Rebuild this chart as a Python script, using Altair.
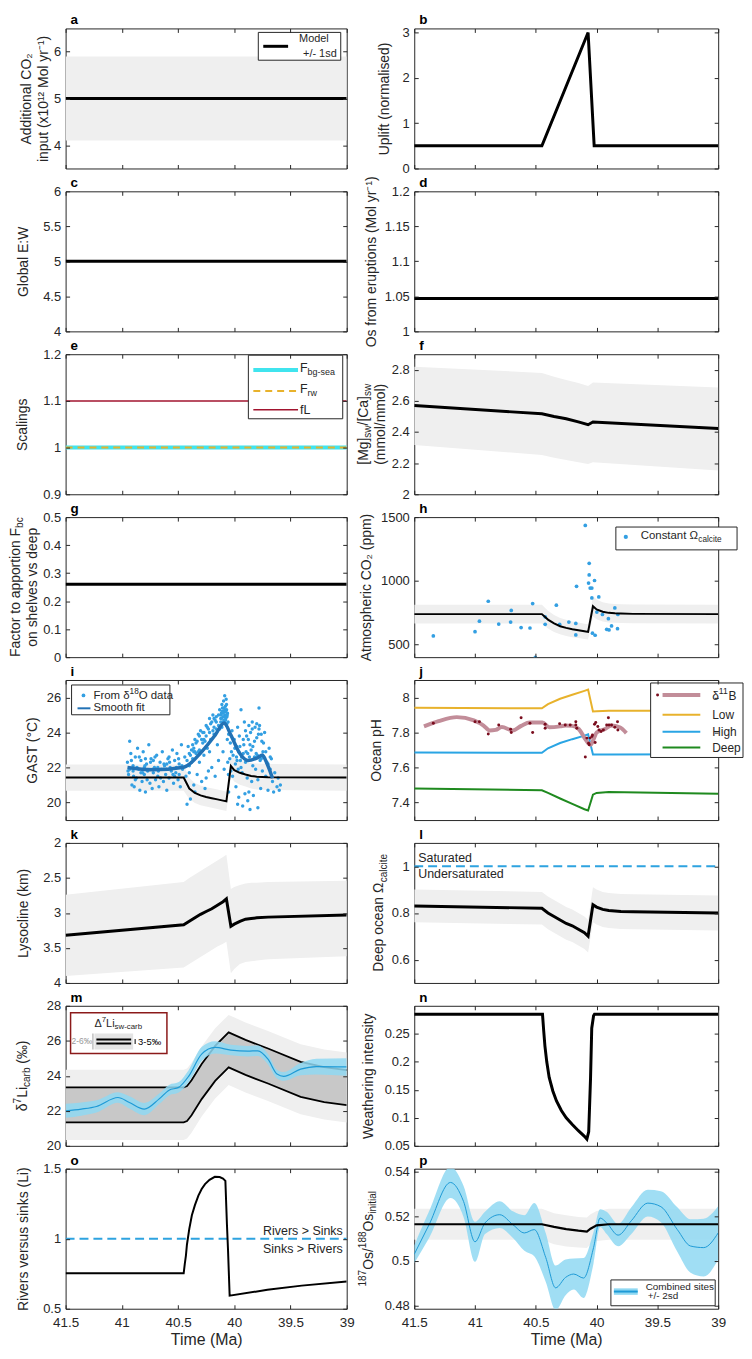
import altair as alt
import pandas as pd

FONT = "Liberation Sans"
TXT = "#262626"
GRAY = "#efefef"
XDOM = [41.5, 39.0]
XTICKS = [41.5, 41, 40.5, 40, 39.5, 39]
LW, RW, H = 283, 306, 141
ONE = pd.DataFrame({"k": [0]})

CYAN = "#40e4ee"; ORANGE = "#e8b22c"; DRED = "#a2142f"
BLUE_PT = "#339fe2"; BLUE_FIT = "#2272b5"
HIGHC = "#2aa5e4"; DEEPC = "#1f8a1f"; BORON = "#c28d99"; BDOT = "#7a0d1e"
LIB = "#1e9ad6"; LIBAND = "#8fd8f2"; DASHB = "#2ea3e0"; DARKG = "#c8c8c8"

# ---------------- data ----------------
a_t = [41.5, 39.0]; a_v = [5.0, 5.0]; a_lo = [4.1, 4.1]; a_hi = [5.9, 5.9]
b_t = [41.5, 40.45, 40.07, 40.02, 39.0]; b_v = [0.5, 0.5, 3.0, 0.5, 0.5]
c_t = [41.5, 39.0]; c_v = [5.0, 5.0]
d_t = [41.5, 39.0]; d_v = [1.047, 1.047]
e_t = [41.5, 39.0]; e_bg = [1.0, 1.0]; e_rw = [1.0, 1.0]; e_fl = [1.1, 1.1]
f_t = [41.5, 40.45, 40.35, 40.25, 40.15, 40.07, 40.03, 39.0]
f_v = [2.57, 2.517, 2.50, 2.485, 2.465, 2.447, 2.464, 2.422]
f_hi = [2.819, 2.78, 2.755, 2.735, 2.715, 2.696, 2.718, 2.686]
f_lo = [2.316, 2.253, 2.235, 2.22, 2.205, 2.194, 2.205, 2.152]
g_t = [41.5, 39.0]; g_v = [0.26, 0.26]

mod_t = [41.5, 40.45, 40.4, 40.35, 40.3, 40.25, 40.2, 40.15, 40.1, 40.07,
         40.03, 40.0, 39.95, 39.9, 39.85, 39.8, 39.7, 39.0]
h_v = [738, 738, 695, 665, 643, 630, 619, 611, 603, 598, 800, 775, 757, 748, 744, 742, 740, 738]
h_hi = [812, 812, 765, 731, 707, 693, 681, 672, 663, 658, 880, 852, 832, 822, 818, 816, 814, 812]
h_lo = [664, 664, 625, 598, 579, 567, 557, 550, 543, 538, 720, 697, 681, 673, 670, 668, 666, 664]
h_pt = [41.343, 41.0, 40.964, 40.891, 40.805, 40.702, 40.707, 40.621, 40.548, 40.526,
        40.504, 40.423, 40.423, 40.331, 40.304, 40.228, 40.171, 40.171, 40.165, 40.093,
        40.061, 40.061, 40.066, 40.053, 40.039, 40.039, 40.017, 40.034, 40.012, 39.998,
        39.982, 39.952, 39.917, 39.903, 39.898, 39.877, 39.85, 39.828, 39.825]
h_pv = [567, 600, 683, 839, 660, 767, 676, 632, 629, 821,
        398, 658, 717, 808, 658, 676, 665, 575, 956, 1435,
        1137, 1046, 982, 943, 943, 865, 1002, 588, 572, 754,
        873, 735, 619, 702, 614, 645, 787, 624, 735]

i_v = [21.43, 21.43, 20.8, 20.55, 20.41, 20.32, 20.25, 20.18, 20.11, 20.07,
       22.09, 21.85, 21.7, 21.6, 21.52, 21.48, 21.45, 21.43]
i_hi = [22.18, 22.18, 21.4, 21.12, 20.97, 20.88, 20.81, 20.74, 20.67, 20.62,
        22.72, 22.55, 22.42, 22.33, 22.26, 22.23, 22.2, 22.18]
i_lo = [20.68, 20.68, 20.2, 19.98, 19.85, 19.77, 19.7, 19.63, 19.56, 19.52,
        21.46, 21.2, 21.02, 20.92, 20.8, 20.74, 20.71, 20.68]
iA_t = [40.95, 40.94, 40.93, 40.92, 40.91, 40.90, 40.89, 40.88, 40.87, 40.86,
        40.85, 40.84, 40.83, 40.82, 40.81, 40.80, 40.79, 40.78, 40.77, 40.76,
        40.75, 40.74, 40.73, 40.72, 40.71, 40.70, 40.69, 40.68, 40.67, 40.66,
        40.65, 40.64, 40.63, 40.62, 40.61, 40.60, 40.59, 40.58, 40.57, 40.56,
        40.55, 40.54, 40.53, 40.52, 40.51, 40.50, 40.49, 40.48, 40.47, 40.46,
        40.93, 40.88, 40.83, 40.79, 40.72, 40.68, 40.63, 40.58, 40.53, 40.49]
iA_v = [22.3, 21.6, 23.5, 22.8, 21.0, 22.1, 20.9, 22.6, 21.4, 23.1,
        21.9, 20.7, 22.4, 21.2, 22.9, 21.6, 20.6, 22.2, 21.8, 23.3,
        21.1, 22.5, 20.8, 21.7, 22.0, 21.3, 22.7, 21.5, 20.9, 22.3,
        21.9, 22.9, 21.2, 22.1, 21.6, 20.7, 22.5, 21.4, 22.0, 21.8,
        23.0, 21.1, 22.4, 21.7, 22.8, 21.3, 22.2, 20.9, 23.3, 21.9,
        21.9, 21.3, 21.7, 22.5, 22.4, 22.0, 21.9, 22.6, 21.5, 21.6]
iB_t = [40.44, 40.43, 40.42, 40.41, 40.40, 40.39, 40.38, 40.37, 40.36, 40.35,
        40.34, 40.33, 40.32, 40.31, 40.30, 40.29, 40.28, 40.27, 40.26, 40.25,
        40.24, 40.23, 40.22, 40.21, 40.20, 40.19, 40.18, 40.17, 40.16, 40.15,
        40.14, 40.13, 40.32, 40.27, 40.22, 40.18, 40.40, 40.36]
iB_v = [22.6, 21.5, 19.9, 23.2, 22.1, 20.2, 23.0, 22.5, 21.0, 23.6,
        22.8, 21.6, 23.9, 22.3, 24.1, 21.2, 23.4, 22.7, 20.8, 24.4,
        23.1, 21.8, 24.8, 23.6, 22.0, 25.0, 23.9, 21.5, 24.6, 23.3,
        22.4, 24.2, 22.9, 23.6, 22.9, 24.3, 21.7, 22.9]
iC_t = [40.12, 40.115, 40.11, 40.105, 40.10, 40.095, 40.09, 40.088, 40.085, 40.082,
        40.08, 40.078, 40.075, 40.072, 40.07, 40.068, 40.065, 40.062, 40.06, 40.058,
        40.055, 40.052, 40.05, 40.10, 40.09]
iC_v = [24.6, 25.1, 24.3, 25.4, 24.9, 25.8, 24.7, 25.2, 26.1, 24.5,
        25.0, 25.5, 24.8, 25.9, 24.4, 25.3, 24.9, 23.6, 25.1, 22.3,
        24.6, 21.6, 23.9, 22.9, 21.9]
iD_t = [40.04, 40.035, 40.03, 40.025, 40.02, 40.015, 40.01, 40.00, 39.99, 39.985,
        39.98, 39.97, 39.965, 39.96, 39.95, 39.945, 39.94, 39.93, 39.925, 39.92,
        39.91, 39.905, 39.90, 39.89, 39.885, 39.88, 39.87, 39.865, 39.86, 39.85,
        39.845, 39.84, 39.835, 39.83, 39.82, 39.81, 39.80, 39.795, 39.79, 39.78,
        39.77, 39.765, 39.76, 39.75, 39.74, 39.73, 39.72, 39.71, 39.70, 39.69,
        39.68, 39.67, 39.66, 39.65, 39.64, 39.62, 39.61, 39.60, 39.59]
iD_v = [22.5, 23.4, 21.8, 22.9, 24.1, 21.5, 22.7, 23.6, 22.2, 20.9,
        22.6, 24.3, 21.9, 20.3, 23.2, 22.4, 25.3, 21.7, 19.8, 22.8,
        24.6, 20.5, 22.3, 23.8, 21.4, 20.1, 24.4, 22.6, 19.6, 23.0,
        21.2, 24.2, 22.1, 20.4, 23.5, 21.9, 24.5, 22.7, 21.3, 25.4,
        22.4, 20.8, 23.9, 21.8, 22.6, 24.0, 21.5, 22.3, 20.7, 23.1,
        21.9, 22.5, 21.2, 20.6, 21.7, 20.9, 21.4, 20.7, 21.0]
iE_t = [40.42, 40.40, 40.38, 40.36, 40.34, 40.31, 40.29, 40.27, 40.25, 40.23,
        40.21, 40.19, 40.17, 40.16, 40.14, 40.13, 40.12, 40.11, 40.1, 40.09,
        39.98, 39.96, 39.94, 39.92, 39.9, 39.88, 39.86, 39.84, 39.82, 39.80,
        39.78, 39.76, 39.74, 39.72, 39.7, 39.68, 40.6, 40.7, 40.8, 40.9]
iE_v = [22.4, 22.8, 22.3, 23.1, 23.4, 23.0, 23.6, 24.0, 23.8, 24.2,
        24.5, 24.1, 24.7, 24.9, 24.4, 25.3, 24.8, 25.6, 25.2, 24.6,
        23.2, 22.9, 22.0, 23.6, 24.1, 22.8, 23.3, 24.6, 22.6, 23.7,
        24.2, 22.5, 23.4, 22.9, 22.2, 22.6, 22.2, 21.9, 22.0, 21.8]
iF_t = [40.118, 40.113, 40.108, 40.103, 40.098, 40.093, 40.087, 40.083, 40.079, 40.076,
        40.073, 40.069, 40.066, 40.063, 40.39, 40.37, 40.35, 40.33, 40.31, 40.28,
        40.26, 40.24, 40.22, 40.2, 40.18, 40.16, 40.14, 39.995, 39.975, 39.955,
        39.935, 39.915, 39.895, 39.875, 39.855, 39.835, 39.815, 39.805, 39.785, 39.775,
        39.755, 39.745, 40.35, 40.25, 40.05, 39.97, 39.87, 39.79]
iF_v = [25.0, 24.8, 25.2, 24.6, 25.1, 25.4, 24.9, 25.3, 24.7, 25.2,
        24.9, 25.6, 24.5, 25.0, 22.7, 23.3, 22.9, 23.5, 23.8, 24.0,
        23.5, 24.3, 24.0, 24.6, 24.8, 24.2, 25.0, 23.1, 22.4, 23.8,
        22.6, 23.3, 22.9, 23.6, 24.0, 23.2, 24.3, 22.8, 23.9, 24.4,
        23.5, 22.9, 20.6, 21.4, 20.6, 19.9, 20.6, 19.7]
iG_t = [40.945, 40.915, 40.895, 40.865, 40.845, 40.815, 40.795, 40.775, 40.745, 40.725,
        40.705, 40.675, 40.655, 40.625, 40.605, 40.575, 40.545, 40.515, 40.495, 40.465]
iG_v = [21.8, 22.4, 21.5, 22.0, 22.6, 21.7, 22.1, 21.3, 22.3, 21.9,
        22.6, 21.8, 21.4, 22.2, 21.9, 22.3, 21.6, 22.0, 22.5, 22.1]
if_t = [40.95, 40.728, 40.45, 40.29, 40.17, 40.09, 40.03, 39.95, 39.88, 39.79, 39.75, 39.71, 39.66]
if_v = [22.0, 21.87, 22.02, 22.9, 23.85, 24.55, 23.85, 22.8, 22.4, 22.57, 22.71, 22.24, 21.39]

jm_t = [41.5, 40.45, 40.4, 40.3, 40.2, 40.1, 40.07, 40.03, 40.0, 39.9, 39.0]
j_low = [7.942, 7.938, 7.962, 7.993, 8.016, 8.038, 8.045, 7.92, 7.922, 7.924, 7.925]
j_high = [7.686, 7.684, 7.71, 7.74, 7.762, 7.782, 7.79, 7.675, 7.675, 7.675, 7.676]
j_deep = [7.48, 7.47, 7.455, 7.423, 7.392, 7.362, 7.355, 7.445, 7.455, 7.46, 7.45]
jb_t = [41.42, 41.3, 41.15, 41.01, 40.93, 40.88, 40.83, 40.78, 40.69, 40.62,
        40.55, 40.445, 40.39, 40.3, 40.255, 40.2, 40.147, 40.1, 40.07, 40.05,
        40.02, 40.0, 39.93, 39.88, 39.81, 39.755]
jb_v = [7.835, 7.865, 7.888, 7.869, 7.84, 7.812, 7.815, 7.831, 7.812, 7.838,
        7.857, 7.857, 7.83, 7.835, 7.84, 7.838, 7.82, 7.77, 7.74, 7.73,
        7.77, 7.8, 7.82, 7.84, 7.83, 7.797]
j_pt = [41.343, 41.0, 40.964, 40.891, 40.805, 40.707, 40.702, 40.621, 40.548, 40.526,
        40.423, 40.423, 40.304, 40.258, 40.217, 40.171, 40.171, 40.163, 40.093, 40.08,
        40.066, 40.061, 40.053, 40.039, 40.034, 40.017, 40.012, 40.007, 39.99, 39.98,
        39.963, 39.944, 39.917, 39.903, 39.898, 39.877, 39.85, 39.828, 39.825]
j_pv = [7.853, 7.862, 7.862, 7.792, 7.843, 7.819, 7.80, 7.885, 7.853, 7.80,
        7.847, 7.824, 7.85, 7.843, 7.843, 7.862, 7.843, 7.824, 7.66, 7.768,
        7.739, 7.73, 7.768, 7.777, 7.786, 7.847, 7.743, 7.857, 7.834, 7.815,
        7.806, 7.815, 7.843, 7.885, 7.843, 7.843, 7.83, 7.862, 7.815]

k_v = [3.32, 3.17, 3.12, 3.07, 3.02, 2.98, 2.94, 2.89, 2.84, 2.80,
       3.19, 3.16, 3.12, 3.09, 3.08, 3.07, 3.06, 3.03]
k_top = [2.74, 2.56, 2.50, 2.45, 2.40, 2.35, 2.30, 2.25, 2.20, 2.17,
         2.66, 2.63, 2.60, 2.58, 2.57, 2.57, 2.56, 2.54]
k_bot = [3.90, 3.78, 3.73, 3.68, 3.63, 3.58, 3.53, 3.48, 3.44, 3.41,
         3.86, 3.80, 3.73, 3.70, 3.69, 3.68, 3.66, 3.62]
l_v = [0.83, 0.82, 0.80, 0.785, 0.77, 0.755, 0.745, 0.73, 0.715, 0.70,
       0.835, 0.825, 0.815, 0.81, 0.808, 0.806, 0.805, 0.80]
l_hi = [0.90, 0.89, 0.87, 0.855, 0.84, 0.825, 0.815, 0.80, 0.785, 0.77,
        0.91, 0.90, 0.89, 0.885, 0.883, 0.881, 0.88, 0.875]
l_lo = [0.76, 0.75, 0.73, 0.715, 0.70, 0.685, 0.675, 0.66, 0.645, 0.63,
        0.76, 0.75, 0.74, 0.735, 0.733, 0.731, 0.73, 0.725]
sat_t = [41.5, 39.0]; sat_v = [1.0, 1.0]

m_t = [41.5, 40.45, 40.42, 40.38, 40.29, 40.17, 40.05, 39.9, 39.7, 39.41, 39.2, 39.0]
m_up = [23.34, 23.34, 23.42, 23.75, 24.67, 25.71, 26.48, 26.05, 25.56, 24.8, 24.5, 24.33]
m_dn = [21.34, 21.34, 21.42, 21.75, 22.67, 23.71, 24.48, 24.05, 23.56, 22.8, 22.5, 22.33]
m_top = [24.34, 24.34, 24.42, 24.75, 25.67, 26.71, 27.48, 27.05, 26.56, 25.8, 25.5, 25.33]
m_bot = [20.34, 20.34, 20.42, 20.75, 21.67, 22.71, 23.48, 23.05, 22.56, 21.8, 21.5, 21.33]
mb_t = [41.5, 41.36, 41.225, 41.035, 40.933, 40.8, 40.67, 40.58, 40.494, 40.406,
        40.29, 40.17, 40.03, 39.88, 39.79, 39.7, 39.62, 39.56, 39.41, 39.27, 39.0]
mb_v = [22.0, 22.1, 22.25, 22.76, 22.48, 22.1, 22.67, 23.18, 23.34, 23.97,
        25.24, 25.62, 25.47, 25.41, 25.43, 24.95, 24.1, 23.97, 24.38, 24.53, 24.51]
mb_hi = [22.4, 22.48, 22.6, 23.06, 22.83, 22.45, 22.97, 23.48, 23.64, 24.32,
         25.64, 25.97, 25.77, 25.71, 25.73, 25.25, 24.35, 24.22, 24.73, 24.98, 25.01]
mb_lo = [21.6, 21.72, 21.9, 22.46, 22.13, 21.75, 22.37, 22.88, 23.04, 23.62,
         24.84, 25.27, 25.17, 25.11, 25.13, 24.65, 23.85, 23.72, 24.03, 24.08, 24.01]

n_t = [41.5, 40.445, 40.435, 40.425, 40.41, 40.39, 40.36, 40.33, 40.29, 40.25,
       40.2, 40.15, 40.1, 40.08, 40.065, 40.05, 40.04, 40.025, 40.017, 39.0]
n_v = [0.285, 0.285, 0.255, 0.228, 0.2, 0.172, 0.148, 0.13, 0.113, 0.1,
       0.088, 0.077, 0.067, 0.062, 0.075, 0.17, 0.26, 0.282, 0.285, 0.285]

o_t = [41.5, 40.45, 40.44, 40.43, 40.421, 40.4, 40.377, 40.35, 40.319, 40.29,
       40.26, 40.22, 40.173, 40.13, 40.1, 40.079, 40.065, 40.056, 40.041, 39.705,
       39.4, 39.0]
o_v = [0.753, 0.753, 0.82, 0.88, 0.957, 1.07, 1.167, 1.24, 1.308, 1.355,
       1.39, 1.42, 1.442, 1.44, 1.43, 1.413, 1.1, 0.93, 0.593, 0.635,
       0.665, 0.695]

pm_t = [41.5, 40.45, 40.35, 40.25, 40.15, 40.08, 40.05, 40.0, 39.9, 39.0]
pm_v = [0.5165, 0.5165, 0.5153, 0.5143, 0.5136, 0.5132, 0.5145, 0.516, 0.5165, 0.5165]
pm_hi = [0.5235, 0.5235, 0.5215, 0.5205, 0.5198, 0.5195, 0.521, 0.5225, 0.5235, 0.5235]
pm_lo = [0.5095, 0.5095, 0.5075, 0.5065, 0.506, 0.5058, 0.5075, 0.509, 0.5095, 0.5095]
pb_t = [41.5, 41.378, 41.202, 41.094, 41.0, 40.918, 40.797, 40.688, 40.594, 40.513,
        40.418, 40.337, 40.255, 40.188, 40.107, 40.025, 39.971, 39.917, 39.823, 39.714,
        39.579, 39.471, 39.336, 39.227, 39.119, 39.0]
pb_v = [0.503, 0.5163, 0.5353, 0.5267, 0.5086, 0.5171, 0.5208, 0.5163, 0.5126, 0.5141,
        0.5015, 0.4879, 0.4926, 0.4941, 0.4923, 0.506, 0.5193, 0.5171, 0.5116, 0.5181,
        0.526, 0.5244, 0.5141, 0.5067, 0.506, 0.5126]
pb_hi = [0.507, 0.5223, 0.5423, 0.5337, 0.5176, 0.5221, 0.5268, 0.5223, 0.5206, 0.5261,
         0.5125, 0.4979, 0.5006, 0.5011, 0.5013, 0.513, 0.5233, 0.5221, 0.5166, 0.5241,
         0.532, 0.5314, 0.5241, 0.5187, 0.519, 0.5246]
pb_lo = [0.499, 0.5103, 0.5283, 0.5197, 0.4996, 0.5121, 0.5148, 0.5103, 0.5046, 0.5021,
         0.4905, 0.4779, 0.4846, 0.4871, 0.4833, 0.499, 0.5153, 0.5121, 0.5066, 0.5121,
         0.52, 0.5174, 0.5041, 0.4947, 0.493, 0.5006]

# ---------------- helpers ----------------
CW = {" ": .278, "!": .278, "(": .333, ")": .333, "+": .584, "-": .333, ".": .278, "/": .278,
      ":": .278, "=": .584, ">": .584, "<": .584, "[": .278, "]": .278, "‰": 1.0, "Δ": .668,
      "δ": .556, "Ω": .768, "°": .4}
for ch in "0123456789":
    CW[ch] = .556
CW.update(dict(A=.667, B=.667, C=.722, D=.722, E=.667, F=.611, G=.778, H=.722, I=.278, J=.5,
               K=.667, L=.556, M=.833, N=.722, O=.778, P=.667, Q=.778, R=.722, S=.667, T=.611,
               U=.722, V=.667, W=.944, X=.667, Y=.667, Z=.611))
CW.update(dict(a=.556, b=.556, c=.5, d=.556, e=.556, f=.278, g=.556, h=.556, i=.222, j=.222,
               k=.5, l=.222, m=.833, n=.556, o=.556, p=.556, q=.556, r=.333, s=.5, t=.278,
               u=.556, v=.5, w=.722, x=.5, y=.5, z=.5))


def tw(s, size):
    return sum(CW.get(ch, .556) for ch in s) * size


def xs():
    return alt.Scale(domain=XDOM, nice=False, zero=False)


def ys(dom, rev=False):
    if rev:
        return alt.Scale(domain=dom, nice=False, zero=False, reverse=True)
    return alt.Scale(domain=dom, nice=False, zero=False)


def enc(yf, yd, rev=False):
    return dict(x=alt.X("t:Q", scale=xs(), axis=None),
                y=alt.Y(yf + ":Q", scale=ys(yd, rev), axis=None))


def band(t, lo, hi, yd, color=GRAY, rev=False, opacity=1.0, interp="linear"):
    df = pd.DataFrame({"t": t, "lo": lo, "hi": hi})
    return alt.Chart(df).mark_area(color=color, opacity=opacity, clip=True, interpolate=interp).encode(
        y2=alt.Y2("hi"), **enc("lo", yd, rev))


def line(t, v, yd, color="black", sw=3.0, dash=None, interp="linear", rev=False):
    df = pd.DataFrame({"t": t, "v": v})
    kw = dict(color=color, strokeWidth=sw, clip=True, interpolate=interp)
    if dash:
        kw["strokeDash"] = dash
    return alt.Chart(df).mark_line(**kw).encode(**enc("v", yd, rev))


def dots(t, v, yd, color, size=12):
    df = pd.DataFrame({"t": t, "v": v})
    return alt.Chart(df).mark_circle(color=color, size=size, opacity=1, clip=True).encode(**enc("v", yd))


def rect(x1, y1, x2, y2, fill="white", stroke=TXT, sw=1.0):
    kw = dict(fill=fill, strokeWidth=sw)
    if stroke:
        kw["stroke"] = stroke
    return alt.Chart(ONE).mark_rect(**kw).encode(
        x=alt.value(x1), x2=alt.value(x2), y=alt.value(y1), y2=alt.value(y2))


def hrule(x1, x2, y, color, sw, dash=None):
    kw = dict(color=color, strokeWidth=sw)
    if dash:
        kw["strokeDash"] = dash
    return alt.Chart(ONE).mark_rule(**kw).encode(x=alt.value(x1), x2=alt.value(x2), y=alt.value(y))


def vrule(x, y1, y2, color, sw):
    return alt.Chart(ONE).mark_rule(color=color, strokeWidth=sw).encode(
        x=alt.value(x), y=alt.value(y1), y2=alt.value(y2))


def dot(x, y, color, size):
    return alt.Chart(ONE).mark_circle(color=color, size=size, opacity=1).encode(x=alt.value(x), y=alt.value(y))


def text(s, x, y, size, align="left", color=TXT, weight="normal", baseline="middle"):
    return alt.Chart(ONE).mark_text(text=s, align=align, baseline=baseline, fontSize=size,
                                    font=FONT, color=color, fontWeight=weight).encode(
        x=alt.value(x), y=alt.value(y))


def vtext(s, W, val, yd, dy, align="right", xoff=4, size=12.5):
    df = pd.DataFrame({"v": [val]})
    x = W - xoff if align == "right" else xoff
    return alt.Chart(df).mark_text(text=s, align=align, baseline="middle", dy=dy, fontSize=size,
                                   font=FONT, color=TXT).encode(
        x=alt.value(x), y=alt.Y("v:Q", scale=ys(yd), axis=None))


def rich(segs, x, y, size, angle=0, align="left", color=TXT):
    small = size * 0.72
    sizes = [small if k != "n" else size for _, k in segs]
    widths = [tw(t, s) for (t, _), s in zip(segs, sizes)]
    total = sum(widths)
    pos = {"left": 0.0, "center": -total / 2, "right": -total}[align]
    out = []
    for (t, k), s, w in zip(segs, sizes, widths):
        lead = len(t) - len(t.lstrip(" "))
        st = t.strip(" ")
        p = pos + lead * CW[" "] * s
        shift = {"n": 0.0, "sub": size * 0.32, "sup": -size * 0.38}[k]
        if angle == 0:
            px, py = x + p, y + shift
        else:
            px, py = x + shift, y - p
        out.append(alt.Chart(ONE).mark_text(text=st, align="left", baseline="middle", fontSize=s,
                                            angle=angle, color=color, font=FONT).encode(
            x=alt.value(px), y=alt.value(py)))
        pos += w
    return out


AXFONT = dict(labelFont=FONT, titleFont=FONT, labelFontSize=13, titleFontSize=14,
              labelColor=TXT, titleColor=TXT, titleFontWeight="normal")


def axes_pair(yd, yticks, rev, xlab, ytitle, tpad):
    dfa = pd.DataFrame({"t": [XDOM[0]], "v": [yd[0]]})
    com = dict(tickSize=4, offset=-4, domain=False, grid=False, zindex=1, tickColor=TXT)
    yax = dict(values=yticks, format=".6~g", orient="left", labelPadding=5,
               titleLineHeight=17, titlePadding=tpad, title=ytitle, **com, **AXFONT)
    xax = dict(values=XTICKS, orient="bottom", labels=xlab, **com)
    if xlab:
        xax.update(title="Time (Ma)", titlePadding=3, format=".6~g",
                   labelPadding=7, labelFlush=False, labelOverlap=False, **AXFONT)
        xax["titleFontSize"] = 16
        xax["labelFontSize"] = 13.5
    else:
        xax["title"] = None
    main = alt.Chart(dfa).mark_point(opacity=0).encode(
        x=alt.X("t:Q", scale=xs(), axis=alt.Axis(**xax)),
        y=alt.Y("v:Q", scale=ys(yd, rev), axis=alt.Axis(**yax)))
    opp = alt.Chart(dfa).mark_point(opacity=0).encode(
        x=alt.X("t:Q", scale=xs(), axis=alt.Axis(values=XTICKS, orient="top", labels=False, title=None, **com)),
        y=alt.Y("v:Q", scale=ys(yd, rev), axis=alt.Axis(values=yticks, orient="right", labels=False, title=None, **com)))
    return [main, opp]


def panel(letter, W, yd, yticks, layers, ytitle=None, tpad=10, xlab=False, rev=False):
    lab = text(letter, 5, -1, 13.5, color="#000000", weight="bold", baseline="bottom")
    ch = alt.layer(*axes_pair(yd, yticks, rev, xlab, ytitle, tpad), *layers, lab).resolve_axis(
        x="independent", y="independent")
    return ch.properties(width=W, height=H)


# ---------------- panels ----------------
def P_a():
    yd, W = [3.5, 6.5], LW
    L = [band(a_t, a_lo, a_hi, yd), line(a_t, a_v, yd, sw=3),
         rect(W - 89, 4, W - 6, 32), hrule(W - 84, W - 59, 18, "black", 3),
         text("Model", W - 33, 11, 11, "center"), text("+/- 1sd", W - 27, 25.5, 11, "center")]
    return panel("a", W, yd, [4, 5, 6], L, ytitle=["Additional CO₂", "input (x10¹² Mol yr⁻¹)"], tpad=3)


def P_b():
    yd = [0, 3.09]
    return panel("b", RW, yd, [0, 1, 2, 3], [line(b_t, b_v, yd, sw=3)], ytitle="Uplift (normalised)", tpad=11)


def P_c():
    yd = [4, 6]
    return panel("c", LW, yd, [4, 4.5, 5, 5.5, 6], [line(c_t, c_v, yd, sw=3)], ytitle="Global E:W", tpad=12)


def P_d():
    yd = [1, 1.2]
    return panel("d", RW, yd, [1, 1.05, 1.1, 1.15, 1.2], [line(d_t, d_v, yd, sw=3)],
                 ytitle="Os from eruptions (Mol yr⁻¹)", tpad=6)


def P_e():
    yd, W = [0.9, 1.2], LW
    L = [line(e_t, e_fl, yd, color=DRED, sw=1.5), line(e_t, e_bg, yd, color=CYAN, sw=4),
         line(e_t, e_rw, yd, color=ORANGE, sw=2, dash=[7, 5]),
         rect(W - 99, 1, W - 4, 65),
         hrule(W - 94, W - 49, 16, CYAN, 4), hrule(W - 94, W - 49, 37, ORANGE, 2, [7, 5]),
         hrule(W - 94, W - 49, 56, DRED, 1.5)]
    L += rich([("F", "n"), ("bg-sea", "sub")], W - 47, 14, 12.5)
    L += rich([("F", "n"), ("rw", "sub")], W - 47, 35, 12.5)
    L += [text("fL", W - 47, 56, 12.5)]
    return panel("e", W, yd, [0.9, 1, 1.1, 1.2], L, ytitle="Scalings", tpad=13)


def P_f():
    yd, W = [2, 2.9], RW
    L = [band(f_t, f_lo, f_hi, yd), line(f_t, f_v, yd, sw=3)]
    L += rich([("[Mg]", "n"), ("sw", "sub"), ("/[Ca]", "n"), ("sw", "sub")], -51, H / 2, 14, angle=270, align="center")
    L += rich([("(mmol/mmol)", "n")], -33, H / 2, 14, angle=270, align="center")
    return panel("f", W, yd, [2, 2.2, 2.4, 2.6, 2.8], L)


def P_g():
    yd = [0, 0.5]
    L = [line(g_t, g_v, yd, sw=3)]
    L += rich([("Factor to apportion F", "n"), ("bc", "sub")], -50, H / 2, 14, angle=270, align="center")
    L += rich([("on shelves vs deep", "n")], -33, H / 2, 14, angle=270, align="center")
    return panel("g", LW, yd, [0, 0.1, 0.2, 0.3, 0.4, 0.5], L)


def P_h():
    yd, W = [400, 1500], RW
    L = [band(mod_t, h_lo, h_hi, yd), dots(h_pt, h_pv, yd, BLUE_PT, 14), line(mod_t, h_v, yd, sw=2),
         rect(W - 103, 10, W + 19, 33), dot(W - 93, 20, BLUE_PT, 18)]
    L += rich([("Constant Ω", "n"), ("calcite", "sub")], W - 78, 19, 11.5)
    return panel("h", W, yd, [500, 1000, 1500], L, ytitle="Atmospheric CO₂ (ppm)", tpad=7)


def P_i():
    yd, W = [19, 27], LW
    pts_t = iA_t + iB_t + iC_t + iD_t + iE_t + iF_t + iG_t
    pts_v = iA_v + iB_v + iC_v + iD_v + iE_v + iF_v + iG_v
    L = [band(mod_t, i_lo, i_hi, yd),
         dots(pts_t, pts_v, yd, BLUE_PT, 12),
         line(mod_t, i_v, yd, sw=2), line(if_t, if_v, yd, color=BLUE_FIT, sw=3.5, interp="monotone"),
         rect(6, 5, 105, 35), dot(18, 15.5, BLUE_PT, 14), hrule(12, 25, 28.5, BLUE_FIT, 2)]
    L += rich([("From ", "n"), ("δ", "n"), ("18", "sup"), ("O data", "n")], 28, 16, 11.5)
    L += [text("Smooth fit", 28, 28.5, 11.5)]
    return panel("i", W, yd, [20, 22, 24, 26], L, ytitle="GAST (°C)", tpad=7)


def P_j():
    yd, W = [7.3, 8.1], RW
    L = [line(jm_t, j_low, yd, color=ORANGE, sw=2), line(jm_t, j_high, yd, color=HIGHC, sw=2),
         line(jm_t, j_deep, yd, color=DEEPC, sw=2),
         line(jb_t, jb_v, yd, color=BORON, sw=4, interp="monotone"),
         dots(j_pt, j_pv, yd, BDOT, 9),
         rect(W - 68, 3, W + 25, 78),
         hrule(W - 56, W - 18, 15, BORON, 4), dot(W - 61, 15, BDOT, 9),
         hrule(W - 56, W - 18, 35, ORANGE, 2), hrule(W - 56, W - 18, 52, HIGHC, 2),
         hrule(W - 56, W - 18, 68, DEEPC, 2),
         text("Low", W - 6, 35, 12), text("High", W - 6, 52, 12), text("Deep", W - 6, 68, 12)]
    L += rich([("δ", "n"), ("11", "sup"), ("B", "n")], W - 6, 16, 12)
    return panel("j", W, yd, [7.4, 7.6, 7.8, 8], L, ytitle="Ocean pH", tpad=8)


def P_k():
    yd = [2, 4]
    L = [band(mod_t, k_top, k_bot, yd, rev=True), line(mod_t, k_v, yd, sw=3, rev=True)]
    return panel("k", LW, yd, [2, 2.5, 3, 3.5, 4], L, ytitle="Lysocline (km)", tpad=12, rev=True)


def P_l():
    yd, W = [0.5, 1.1], RW
    L = [band(mod_t, l_lo, l_hi, yd), line(mod_t, l_v, yd, sw=3),
         line(sat_t, sat_v, yd, color=DASHB, sw=2, dash=[9, 5]),
         vtext("Saturated", W, 1.0, yd, -8, align="left", xoff=4),
         vtext("Undersaturated", W, 1.0, yd, 8, align="left", xoff=4)]
    L += rich([("Deep ocean Ω", "n"), ("calcite", "sub")], -35, H / 2, 14, angle=270, align="center")
    return panel("l", W, yd, [0.6, 0.8, 1], L)


def P_m():
    yd, W = [20, 28], LW
    L = [band(m_t, m_bot, m_top, yd), band(m_t, m_dn, m_up, yd, color=DARKG),
         line(m_t, m_up, yd, sw=1.8), line(m_t, m_dn, yd, sw=1.8),
         band(mb_t, mb_lo, mb_hi, yd, color=LIBAND, opacity=0.85, interp="monotone"),
         line(mb_t, mb_v, yd, color=LIB, sw=1.2, interp="monotone"),
         rect(5, 7, 102, 48, stroke="#8b1a1a", sw=1.5),
         rect(29, 28, 68, 44, fill="#e4e4e4", stroke=None),
         hrule(31, 66, 34, "black", 2), hrule(31, 66, 38, "black", 2),
         vrule(27.5, 28, 44, "#b0b0b0", 1.2), vrule(70, 33.5, 38.5, "black", 1),
         text("2-6‰", 6, 35, 8.5, color="#9a9a9a"), text("3-5‰", 73, 36, 9.5, color="black")]
    L += rich([("Δ", "n"), ("7", "sup"), ("Li", "n"), ("sw-carb", "sub")], 53, 18, 11, align="center")
    L += rich([("δ", "n"), ("7", "sup"), ("Li", "n"), ("carb", "sub"), (" (‰)", "n")], -43, H / 2, 14,
              angle=270, align="center")
    return panel("m", W, yd, [20, 22, 24, 26, 28], L)


def P_n():
    yd = [0.05, 0.3]
    return panel("n", RW, yd, [0.05, 0.1, 0.15, 0.2, 0.25], [line(n_t, n_v, yd, sw=3)],
                 ytitle="Weathering intensity", tpad=9)


def P_o():
    yd, W = [0.5, 1.5], LW
    L = [line(sat_t, sat_v, yd, color=DASHB, sw=2, dash=[9, 5]), line(o_t, o_v, yd, sw=2),
         vtext("Rivers > Sinks", W, 1.0, yd, -8), vtext("Sinks > Rivers", W, 1.0, yd, 10)]
    return panel("o", W, yd, [0.5, 1, 1.5], L, ytitle="Rivers versus sinks (Li)", tpad=12, xlab=True)


def P_p():
    yd, W = [0.4785, 0.5415], RW
    L = [band(pm_t, pm_lo, pm_hi, yd),
         band(pb_t, pb_lo, pb_hi, yd, color=LIBAND, opacity=0.85, interp="monotone"),
         line(pb_t, pb_v, yd, color=LIB, sw=1, interp="monotone"), line(pm_t, pm_v, yd, sw=2.2),
         rect(W - 108, H - 29, W - 3, H - 3),
         rect(W - 105, H - 20.5, W - 81, H - 14, fill=LIBAND, stroke=None),
         hrule(W - 105, W - 81, H - 17.3, LIB, 2),
         text("Combined sites", W - 73, H - 22, 10), text("+/- 2sd", W - 71, H - 12.5, 10)]
    L += rich([("187", "sup"), ("Os/", "n"), ("188", "sup"), ("Os", "n"), ("initial", "sub")],
              -46, H / 2, 14, angle=270, align="center")
    return panel("p", W, yd, [0.48, 0.5, 0.52, 0.54], L, xlab=True)


panels = [P_a(), P_b(), P_c(), P_d(), P_e(), P_f(), P_g(), P_h(),
          P_i(), P_j(), P_k(), P_l(), P_m(), P_n(), P_o(), P_p()]

chart = alt.concat(*panels, columns=2, spacing={"row": 23, "column": 68},
                   bounds="flush", align="each").properties(
    padding={"left": 0, "right": 0, "top": 0, "bottom": 0})

chart = chart.configure_view(stroke=TXT, strokeWidth=1).configure_axis(**AXFONT)

chart.save("out.html", embed_options={"renderer": "svg", "actions": False})
